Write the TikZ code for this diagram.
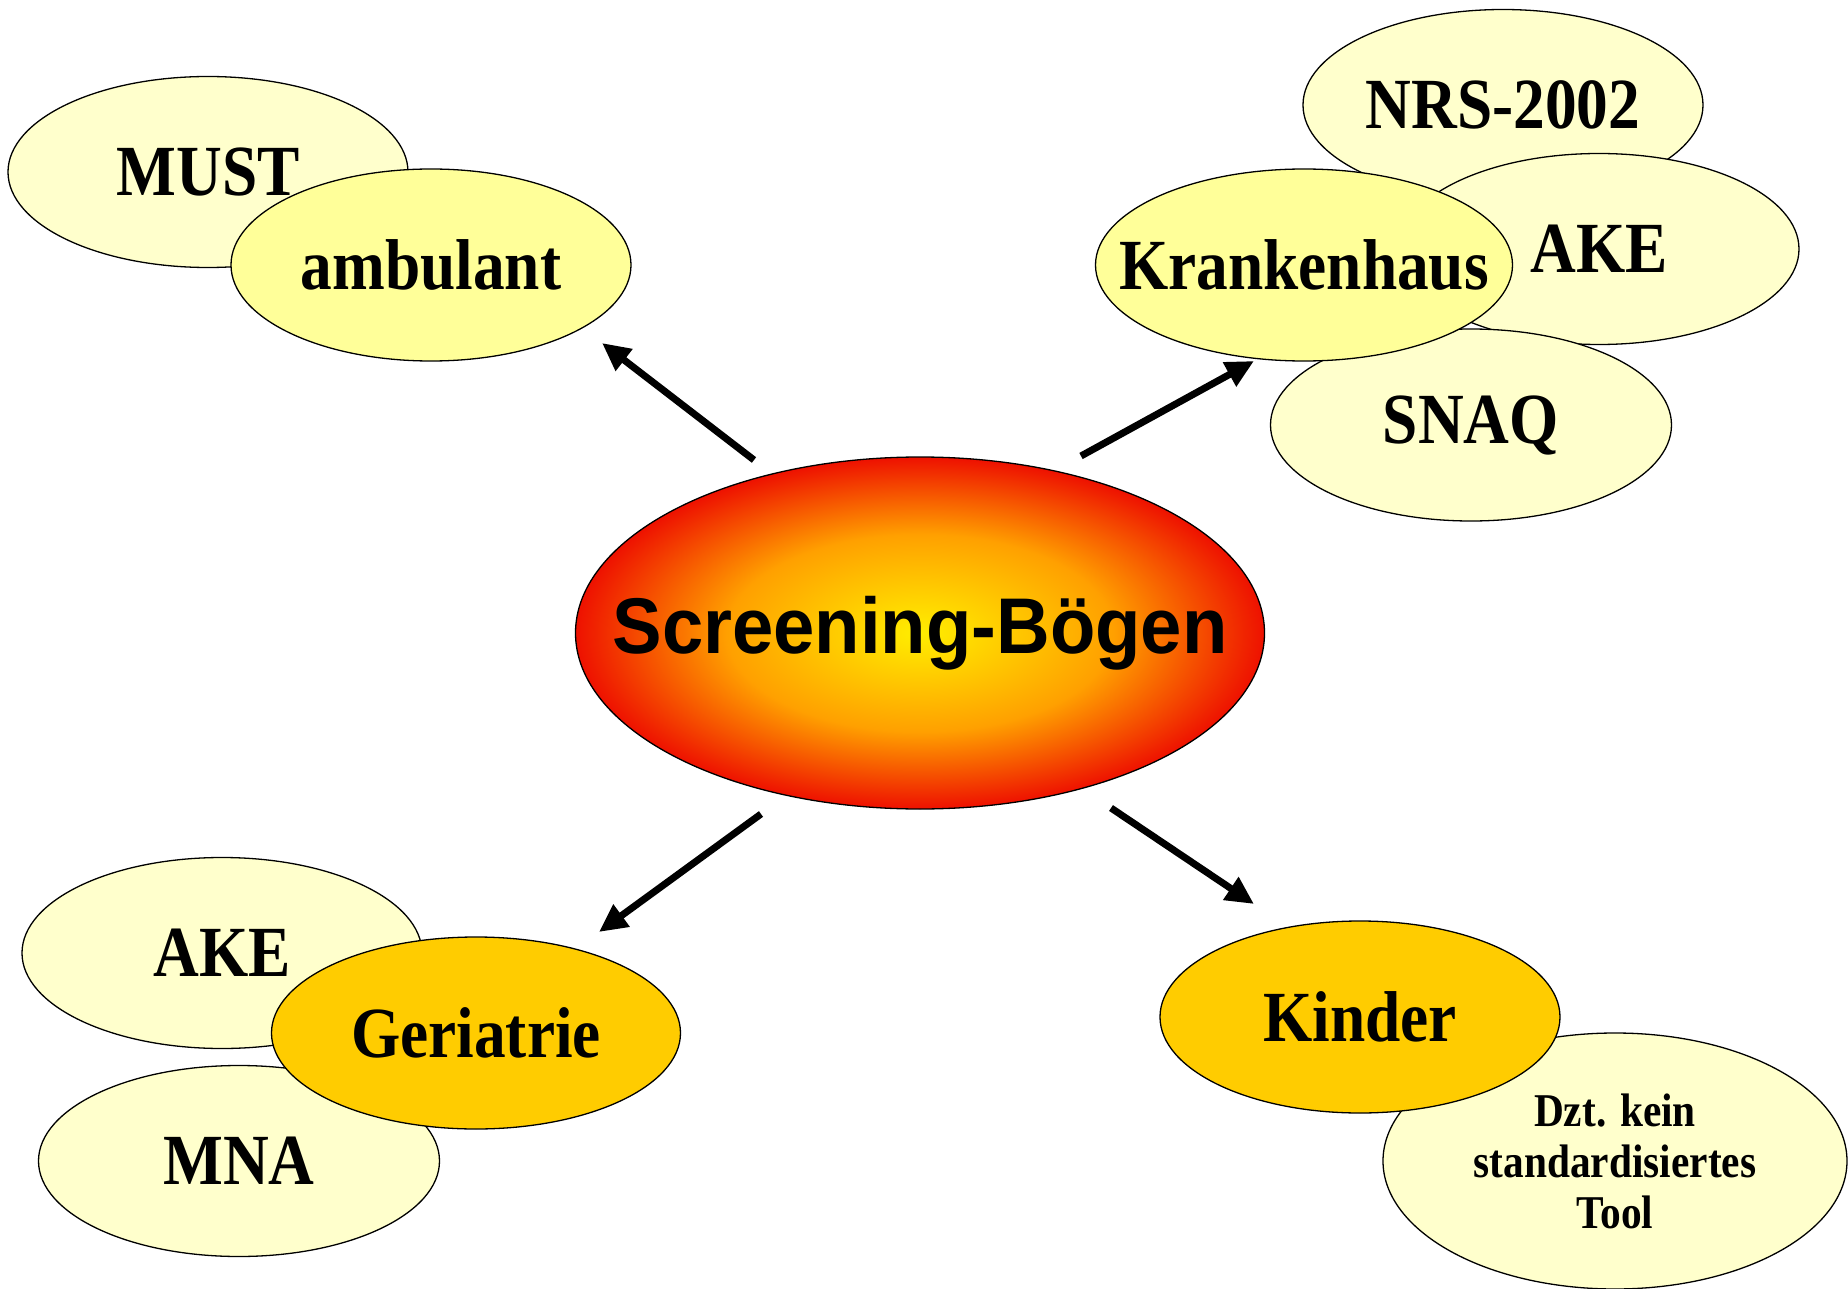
\documentclass[tikz,border=0pt]{standalone}
\usepackage{fontspec}
\setmainfont{Liberation Serif}
\newfontfamily\condserif[FakeStretch=0.88]{Liberation Serif}
\newfontfamily\sansbold[FakeStretch=0.94]{Liberation Sans}
\usetikzlibrary{shapes.geometric,arrows.meta}
\definecolor{paleyel}{HTML}{FFFFCC}
\definecolor{midyel}{HTML}{FFFF99}
\definecolor{gold}{HTML}{FFCC00}
\definecolor{sunA}{HTML}{FFEE00}
\definecolor{sunB}{HTML}{FFA000}
\definecolor{sunC}{HTML}{EE1100}
\pgfdeclareradialshading{sunburst}{\pgfpoint{0bp}{0bp}}{color(0bp)=(sunA); color(14bp)=(sunB); color(25bp)=(sunC); color(50bp)=(sunC)}
\newcommand{\zw}[1]{\makebox[0pt]{\raisebox{-3pt}{#1}}}
\tikzset{
  oval/.style={ellipse, draw=black, line width=1.3pt, inner sep=0pt, align=center,
    font=\condserif\bfseries\fontsize{72}{80}\selectfont},
  sub/.style={oval, fill=paleyel},
  hub/.style={oval, fill=midyel},
  hubgold/.style={oval, fill=gold},
  arr/.style={line width=7pt, -{Triangle[length=28pt,width=26pt]}}
}
\begin{document}
\begin{tikzpicture}[x=1pt,y=-1pt]
\useasboundingbox[fill=white] (0,0) rectangle (1848,1289);
% top left
\node[sub, minimum width=400, minimum height=191] (must) at (208,172) {\zw{MUST}};
\node[hub, minimum width=400, minimum height=192] (amb) at (431,265) {\zw{ambulant}};
% top right
\node[sub, minimum width=400, minimum height=191] (nrs) at (1503,105) {\zw{NRS-2002}};
\node[sub, minimum width=400, minimum height=191] (aketr) at (1599,249) {\zw{AKE}};
\node[sub, minimum width=401, minimum height=192] (snaq) at (1471,425) {\zw{SNAQ}};
\node[hub, minimum width=417, minimum height=192] (kh) at (1304,265) {\zw{Krankenhaus}};
% center
\node[ellipse, draw=black, line width=1.3pt, shading=sunburst, inner sep=0pt,
  minimum width=689, minimum height=352,
  font=\sansbold\bfseries\fontsize{79}{88}\selectfont] (scr) at (920,633) {\makebox[0pt]{\raisebox{-8pt}{Screening-Bögen}}};
% bottom left
\node[sub, minimum width=400, minimum height=191] (akebl) at (222,953) {\zw{AKE}};
\node[sub, minimum width=401, minimum height=191] (mna) at (239,1161) {\zw{MNA}};
\node[hubgold, minimum width=409, minimum height=192] (ger) at (476,1033) {\zw{Geriatrie}};
% bottom right
\node[sub, minimum width=464, minimum height=256,
  font=\condserif\bfseries\fontsize{47}{51}\selectfont] (dzt) at (1615,1161) {Dzt. kein\\standardisiertes\\Tool};
\node[hubgold, minimum width=400, minimum height=192] (kin) at (1360,1017) {\zw{Kinder}};
% arrows
\coordinate (a1s) at (754,460);
\coordinate (a1e) at (602,343);
\coordinate (a2s) at (1081,456);
\coordinate (a2e) at (1254,361);
\coordinate (a3s) at (761,814);
\coordinate (a3e) at (599,932);
\coordinate (a4s) at (1111,808);
\coordinate (a4e) at (1254,904);
\draw[arr] (a1s) -- (a1e);
\draw[arr] (a2s) -- (a2e);
\draw[arr] (a3s) -- (a3e);
\draw[arr] (a4s) -- (a4e);
\end{tikzpicture}
\end{document}
